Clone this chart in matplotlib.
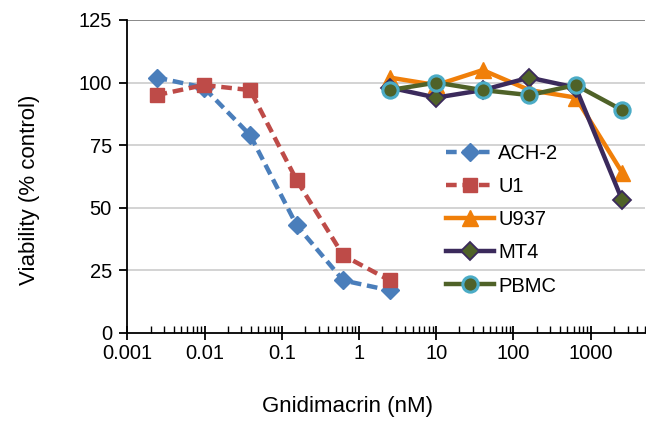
import numpy as np
import matplotlib
matplotlib.use("Agg")
import matplotlib.pyplot as plt
from matplotlib.ticker import LogLocator, FixedLocator, NullFormatter

# concentrations (nM), 4-fold dilutions
conc_low = [0.0024, 0.0098, 0.039, 0.156, 0.625, 2.5]
conc_high = [2.5, 10, 40, 160, 640, 2560]

ach2 = [102, 98, 79, 43, 21, 17]
u1 = [95, 99, 97, 61, 31, 21]
u937 = [102, 99, 105, 97, 94, 64]
mt4 = [98, 94, 97, 102, 98, 53]
pbmc = [97, 100, 97, 95, 99, 89]

xticks = [0.001, 0.01, 0.1, 1, 10, 100, 1000]
xticklabels = ["0.001", "0.01", "0.1", "1", "10", "100", "1000"]
yticks = [0, 25, 50, 75, 100, 125]

plt.rcParams['font.family'] = ['Liberation Sans', 'DejaVu Sans']

fig = plt.figure(figsize=(6.46, 4.25), dpi=100)
ax = fig.add_axes([0.197, 0.2165, 0.801, 0.7365])

ax.plot(conc_low, ach2, color='#4a7ebb', lw=3.2, ls=(0, (2.4, 1.3)), marker='D', ms=9,
        mfc='#4a7ebb', mec='#4a7ebb', label='ACH-2', zorder=4)
ax.plot(conc_low, u1, color='#be4b48', lw=3.2, ls=(0, (2.4, 1.3)), marker='s', ms=10,
        mfc='#be4b48', mec='#be4b48', label='U1', zorder=4)
ax.plot(conc_high, u937, color='#f07f09', lw=3.2, marker='^', ms=11,
        mfc='#f07f09', mec='#f07f09', label='U937', zorder=3)
ax.plot(conc_high, mt4, color='#3b2a5c', lw=3.2, marker='D', ms=9,
        mfc='#4f6228', mec='#3b2a5c', mew=1.3, label='MT4', zorder=4)
ax.plot(conc_high, pbmc, color='#4f6228', lw=3.2, marker='o', ms=11,
        mfc='#4f6228', mec='#4bacc6', mew=2.2, label='PBMC', zorder=5)

ax.set_xscale('log')
ax.set_xlim(0.001, 5000)
ax.set_ylim(0, 125)
ax.xaxis.set_major_locator(FixedLocator(xticks))
ax.set_xticklabels(xticklabels)
ax.xaxis.set_minor_locator(LogLocator(base=10, subs=np.arange(2, 10), numticks=20))
ax.xaxis.set_minor_formatter(NullFormatter())
ax.set_yticks(yticks)

for y in yticks[1:]:
    ax.axhline(y, color='#d0d0d0' if y < 125 else '#808080', lw=1.3, zorder=1)

for s in ['top', 'right']:
    ax.spines[s].set_visible(False)
for s in ['left', 'bottom']:
    ax.spines[s].set_linewidth(1.3)
    ax.spines[s].set_color('black')

ax.tick_params(axis='y', direction='out', length=6, width=1.3, labelsize=14.5, pad=5)
ax.tick_params(axis='x', which='major', direction='inout', length=10, width=1.3,
               labelsize=14.5, pad=3)
ax.tick_params(axis='x', which='minor', direction='in', length=5, width=1.0)

ax.set_xlabel('Gnidimacrin (nM)', fontsize=16)
ax.set_ylabel('Viability (% control)', fontsize=16)
ax.xaxis.set_label_coords(0.425, -0.2)
ax.yaxis.set_label_coords(-0.168, 0.457)

leg = ax.legend(loc='upper left', bbox_to_anchor=(0.60, 0.629), frameon=False,
                fontsize=14.5, handlelength=2.4, handletextpad=0.2, labelspacing=0.7,
                borderaxespad=0)

fig.savefig('out.png', dpi=100)
